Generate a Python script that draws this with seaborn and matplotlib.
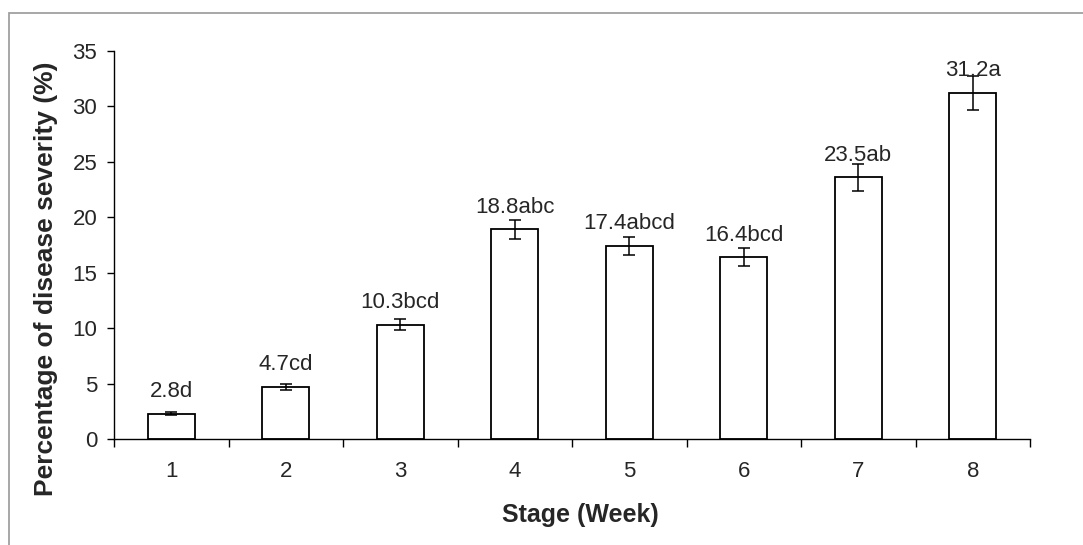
import matplotlib
matplotlib.use("Agg")
import matplotlib.pyplot as plt
from matplotlib.patches import Rectangle
import seaborn as sns
import numpy as np

# Chart data
stages = ['1', '2', '3', '4', '5', '6', '7', '8']
severity = [2.3, 4.7, 10.3, 18.9, 17.4, 16.4, 23.6, 31.2]
sem = [0.1, 0.25, 0.5, 0.85, 0.8, 0.8, 1.2, 1.5]
bar_labels = ['2.8d', '4.7cd', '10.3bcd', '18.8abc', '17.4abcd', '16.4bcd', '23.5ab', '31.2a']
y_ticks = [0, 5, 10, 15, 20, 25, 30, 35]


def main():
    sns.set_style("white")
    plt.rcParams['font.family'] = ['Liberation Sans', 'DejaVu Sans']

    fig = plt.figure(figsize=(10.83, 5.45), dpi=100)
    ax = fig.add_axes([114 / 1083, 1 - 439 / 545, 916 / 1083, 388 / 545])

    sns.barplot(x=stages, y=severity, color='white', saturation=1,
                edgecolor='black', linewidth=1.3, width=0.41,
                errorbar=None, ax=ax)

    # error bars + letter labels above each bar
    centers = [p.get_x() + p.get_width() / 2 for p in ax.patches]
    ax.errorbar(centers, severity, yerr=sem, fmt='none', ecolor='black',
                elinewidth=1.1, capsize=4.3, capthick=1.1)
    for x, y, lab in zip(centers, severity, bar_labels):
        ax.annotate(lab, (x, y), xytext=(0, 12), textcoords='offset points',
                    ha='center', va='baseline', fontsize=16)

    # axes styling (Excel look)
    ax.set_ylim(0, 35)
    ax.set_yticks(y_ticks)
    ax.set_yticklabels([str(t) for t in y_ticks], fontsize=16)
    ax.set_xlim(-0.5, len(stages) - 0.5)
    ax.set_xticks(np.arange(-0.5, len(stages), 1))
    ax.set_xticklabels([''] * (len(stages) + 1))
    ax.set_xticks(np.arange(len(stages)), minor=True)
    ax.set_xticklabels(stages, minor=True, fontsize=16)
    ax.tick_params(axis='x', which='major', direction='out', length=6, width=1, color='black')
    ax.tick_params(axis='x', which='minor', length=0, pad=16)
    ax.tick_params(axis='y', direction='out', length=5, width=1, color='black', pad=7)
    ax.tick_params(left=True, bottom=True)

    for side in ['top', 'right']:
        ax.spines[side].set_visible(False)
    for side in ['left', 'bottom']:
        ax.spines[side].set_color('black')
        ax.spines[side].set_linewidth(1.0)

    ax.set_xlabel('Stage (Week)', fontsize=18, fontweight='bold', va='center')
    ax.xaxis.set_label_coords(0.509, -0.196)
    ax.set_ylabel('Percentage of disease severity (%)', fontsize=19,
                  fontweight='bold', va='center')
    ax.yaxis.set_label_coords(-0.074, 0.412)

    # grey chart-area border
    fig.patches.append(Rectangle((9 / 1083, -0.1), 1.2, (545 - 13) / 545 + 0.1,
                                 transform=fig.transFigure, fill=False,
                                 edgecolor='#a0a0a0', linewidth=1.3))

    fig.savefig('out.png', dpi=100)
    plt.close(fig)


if __name__ == '__main__':
    main()
